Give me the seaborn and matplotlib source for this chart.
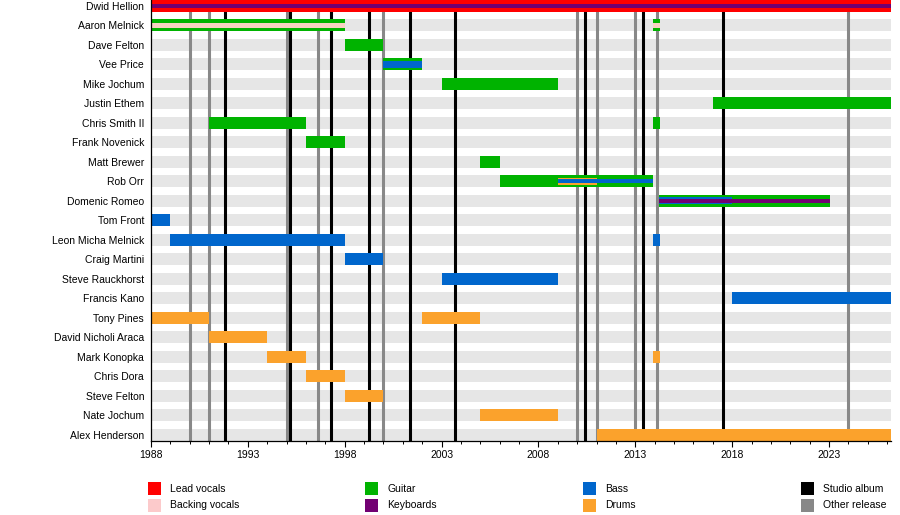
import matplotlib
matplotlib.use("Agg")
import matplotlib.pyplot as plt
from matplotlib.patches import Rectangle
from matplotlib.ticker import MultipleLocator
import seaborn as sns

# ---------------- data ----------------
START = 1988.0
END = 2026.2

members = ["Dwid Hellion", "Aaron Melnick", "Dave Felton", "Vee Price", "Mike Jochum",
           "Justin Ethem", "Chris Smith II", "Frank Novenick", "Matt Brewer", "Rob Orr",
           "Domenic Romeo", "Tom Front", "Leon Micha Melnick", "Craig Martini",
           "Steve Rauckhorst", "Francis Kano", "Tony Pines", "David Nicholi Araca",
           "Mark Konopka", "Chris Dora", "Steve Felton", "Nate Jochum", "Alex Henderson"]

lead_vocals = [("Dwid Hellion", 1988.0, END)]
guitar = [("Aaron Melnick", 1988.0, 1998.0), ("Aaron Melnick", 2013.9, 2014.3),
          ("Dave Felton", 1998.0, 2000.0), ("Vee Price", 2000.0, 2002.0),
          ("Mike Jochum", 2003.0, 2009.0), ("Justin Ethem", 2017.0, END),
          ("Chris Smith II", 1991.0, 1996.0), ("Chris Smith II", 2013.9, 2014.3),
          ("Frank Novenick", 1996.0, 1998.0), ("Matt Brewer", 2005.0, 2006.0),
          ("Rob Orr", 2006.0, 2013.9), ("Domenic Romeo", 2014.2, 2023.05)]
bass = [("Tom Front", 1988.0, 1989.0), ("Leon Micha Melnick", 1989.0, 1998.0),
        ("Leon Micha Melnick", 2013.9, 2014.3), ("Craig Martini", 1998.0, 2000.0),
        ("Steve Rauckhorst", 2003.0, 2009.0), ("Francis Kano", 2018.0, END)]
drums = [("Tony Pines", 1988.0, 1991.0), ("Tony Pines", 2002.0, 2005.0),
         ("David Nicholi Araca", 1991.0, 1994.0), ("Mark Konopka", 1994.0, 1996.0),
         ("Mark Konopka", 2013.9, 2014.3), ("Chris Dora", 1996.0, 1998.0),
         ("Steve Felton", 1998.0, 2000.0), ("Nate Jochum", 2005.0, 2009.0),
         ("Alex Henderson", 2011.0, END)]

# secondary roles (drawn as stripes inside the main bar)
secondary = [("Backing vocals", "Aaron Melnick", 1988.0, 1998.0),
             ("Backing vocals", "Aaron Melnick", 2013.9, 2014.3),
             ("Bass", "Vee Price", 2000.0, 2002.0),
             ("Drums", "Rob Orr", 2009.0, 2011.0),
             ("Bass", "Domenic Romeo", 2014.2, 2018.0)]
tertiary = [("Keyboards", "Dwid Hellion", 1988.0, END),
            ("Bass", "Rob Orr", 2009.0, 2013.9),
            ("Keyboards", "Domenic Romeo", 2014.2, 2023.05)]

studio_albums = [1991.8, 1995.2, 1997.3, 1999.25, 2001.35, 2003.7, 2010.4, 2013.4, 2017.55]
other_releases = [1990.0, 1991.0, 1995.0, 1996.6, 2000.0, 2010.0, 2011.0, 2013.0, 2014.1, 2024.0]

legend_labels = ["Lead vocals", "Backing vocals", "Guitar", "Keyboards",
                 "Bass", "Drums", "Studio album", "Other release"]

colors = {"Lead vocals": "#ff0000", "Backing vocals": "#fccacb", "Guitar": "#00b300",
          "Keyboards": "#720072", "Bass": "#0066cc", "Drums": "#fba22c",
          "Studio album": "#000000", "Other release": "#888888"}
stripe_colors = dict(colors)
stripe_colors["Backing vocals"] = "#f8d2c2"
stripe_heights = {"Backing vocals": 0.27, "Bass": 0.36, "Drums": 0.36, "Keyboards": 0.2}

# ---------------- style ----------------
sns.set_theme(style="white")
plt.rcParams["font.family"] = ["Liberation Sans", "DejaVu Sans"]
plt.rcParams["text.color"] = "black"
FS = 7.5

W, H = 900, 515
fig = plt.figure(figsize=(W / 100, H / 100), dpi=100)
ax = fig.add_axes([151 / W, 1 - 441 / H, 740 / W, 441 / H])

BAR_H = 0.616
pos = {m: i for i, m in enumerate(members)}

# background bands
sns.barplot(x=[END] * len(members), y=members, orient="h", color="#e6e6e6",
            saturation=1, width=BAR_H, linewidth=0, ax=ax, zorder=0)

# release lines
for yr in other_releases:
    ax.axvline(yr, color=colors["Other release"], lw=2.2, zorder=1)
for yr in studio_albums:
    ax.axvline(yr, color=colors["Studio album"], lw=2.2, zorder=1.1)


def draw(segments, color, height, z):
    ys = [pos[m] for m, s, e in segments]
    ws = [e - s for m, s, e in segments]
    ls = [s for m, s, e in segments]
    ax.barh(ys, ws, left=ls, height=height, color=color, linewidth=0, zorder=z)


draw(lead_vocals, colors["Lead vocals"], BAR_H, 3)
draw(guitar, colors["Guitar"], BAR_H, 3)
draw(bass, colors["Bass"], BAR_H, 3)
draw(drums, colors["Drums"], BAR_H, 3)
for role, m, s, e in secondary:
    draw([(m, s, e)], stripe_colors[role], stripe_heights[role], 4)
for role, m, s, e in tertiary:
    draw([(m, s, e)], stripe_colors[role], 0.2, 5)

# axes formatting
ax.set_xlim(START, END)
ax.set_ylim(22.33, -0.308)
ax.set_xlabel("")
ax.set_ylabel("")
ax.set_xticks(list(range(1988, 2026, 5)))
ax.xaxis.set_minor_locator(MultipleLocator(1))
ax.tick_params(axis="x", which="major", direction="out", length=4, width=0.8,
               color="black", labelsize=FS, pad=2.5, bottom=True, labelcolor="black")
ax.tick_params(axis="x", which="minor", direction="out", length=2, width=0.7,
               color="black", bottom=True)
ax.tick_params(axis="y", length=0, pad=5, labelsize=FS, labelcolor="black")
for sp in ["top", "right"]:
    ax.spines[sp].set_visible(False)
for sp in ["left", "bottom"]:
    ax.spines[sp].set_color("black")
    ax.spines[sp].set_linewidth(0.9)
    ax.spines[sp].set_zorder(6)

# legend (four columns, two rows)
col_x = [148, 365, 583, 801]
row_top = [482, 499]
for i, lab in enumerate(legend_labels):
    cx = col_x[i // 2]
    ry = row_top[i % 2]
    fig.add_artist(Rectangle((cx / W, 1 - (ry + 13) / H), 13 / W, 13 / H,
                             transform=fig.transFigure, color=colors[lab], lw=0))
    fig.text((cx + 22) / W, 1 - (ry + 6.5) / H, lab, fontsize=FS, va="center",
             ha="left", color="black")

fig.savefig("out.png", dpi=100)
